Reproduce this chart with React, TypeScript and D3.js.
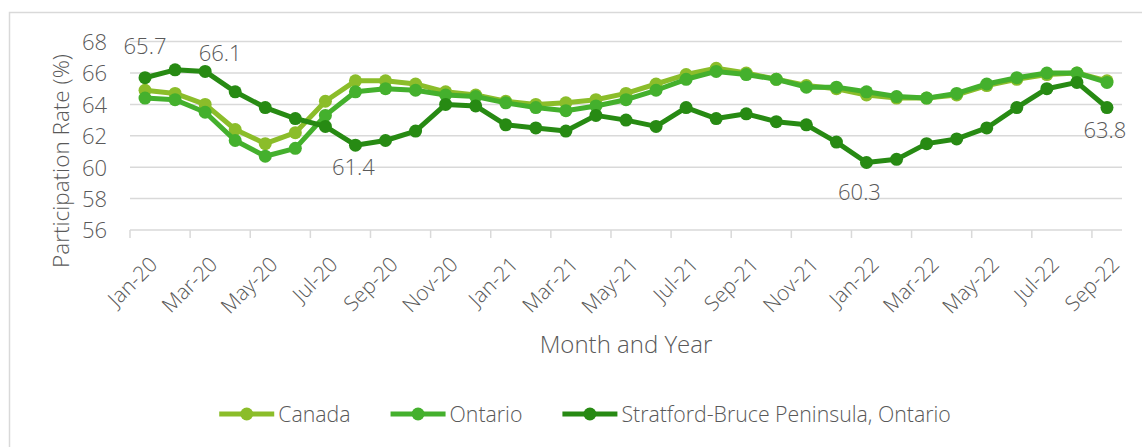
import React, { useRef, useEffect } from "react";
import { select, scaleBand, scaleLinear, line, axisLeft, format } from "d3";

const months = [
  "Jan-20", "Feb-20", "Mar-20", "Apr-20", "May-20", "Jun-20", "Jul-20", "Aug-20", "Sep-20", "Oct-20", "Nov-20", "Dec-20",
  "Jan-21", "Feb-21", "Mar-21", "Apr-21", "May-21", "Jun-21", "Jul-21", "Aug-21", "Sep-21", "Oct-21", "Nov-21", "Dec-21",
  "Jan-22", "Feb-22", "Mar-22", "Apr-22", "May-22", "Jun-22", "Jul-22", "Aug-22", "Sep-22",
];

const canada = [
  64.9, 64.7, 64.0, 62.4, 61.5, 62.2, 64.2, 65.5, 65.5, 65.3, 64.8, 64.6,
  64.2, 64.0, 64.1, 64.3, 64.7, 65.3, 65.9, 66.3, 66.0, 65.6, 65.2, 65.0,
  64.6, 64.4, 64.4, 64.6, 65.2, 65.6, 65.9, 66.0, 65.5,
];

const ontario = [
  64.4, 64.3, 63.5, 61.7, 60.7, 61.2, 63.3, 64.8, 65.0, 64.9, 64.6, 64.5,
  64.1, 63.8, 63.6, 63.9, 64.3, 64.9, 65.6, 66.1, 65.9, 65.6, 65.1, 65.1,
  64.8, 64.5, 64.4, 64.7, 65.3, 65.7, 66.0, 66.0, 65.4,
];

const stratford = [
  65.7, 66.2, 66.1, 64.8, 63.8, 63.1, 62.6, 61.4, 61.7, 62.3, 64.0, 63.9,
  62.7, 62.5, 62.3, 63.3, 63.0, 62.6, 63.8, 63.1, 63.4, 62.9, 62.7, 61.6,
  60.3, 60.5, 61.5, 61.8, 62.5, 63.8, 65.0, 65.4, 63.8,
];

const yTicks = [56, 58, 60, 62, 64, 66, 68];
const seriesNames = ["Canada", "Ontario", "Stratford-Bruce Peninsula, Ontario"];
const seriesColors = ["#8bbd2a", "#44b02d", "#278a13"];

// Stratford points that carry a value label, and where the label sits
const labelIndex = [0, 2, 7, 24, 32];
const labelOffset = [[0, -32], [15, -18], [-2, 22], [-7, 30], [-2, 23]];

const W = 1142;
const H = 447;
const FONT = "'Open Sans', sans-serif";
const WEIGHT = 300;
const TEXT = "#595959";
const GRID = "#d9d9d9";

function ParticipationChart() {
  const svgRef = useRef(null);

  useEffect(() => {
    const svg = select(svgRef.current);
    svg.selectAll("*").remove();

    const left = 130;
    const right = 1122;
    const top = 41.6;
    const bottom = 230;

    const xScale = scaleBand().domain(months).range([left, right]);
    const cx = (m) => xScale(m) + xScale.bandwidth() / 2;
    const yScale = scaleLinear().domain([56, 68]).range([bottom, top]);

    // outer chart frame (runs off the right / bottom like the source)
    svg
      .append("rect")
      .attr("x", 9.5)
      .attr("y", 12.5)
      .attr("width", 1160)
      .attr("height", 460)
      .attr("fill", "none")
      .attr("stroke", GRID)
      .attr("stroke-width", 1.5);

    svg
      .append("g")
      .selectAll("line")
      .data(yTicks)
      .join("line")
      .attr("x1", left)
      .attr("x2", right)
      .attr("y1", (d) => yScale(d))
      .attr("y2", (d) => yScale(d))
      .attr("stroke", GRID)
      .attr("stroke-width", 1.5);

    const yAxis = axisLeft(yScale).tickValues(yTicks).tickSize(0).tickPadding(23);
    const yG = svg.append("g").attr("transform", `translate(${left},0)`).call(yAxis);
    yG.select(".domain").remove();
    yG.selectAll("text")
      .attr("font-family", FONT)
      .attr("font-weight", WEIGHT)
      .attr("font-size", 22)
      .attr("fill", TEXT)
      .attr("dy", "0.36em");

    // x ticks every second month at band edges, labels at band centres
    const tickMonths = months.filter((_, i) => i % 2 === 0);
    svg
      .append("g")
      .selectAll("line")
      .data(tickMonths)
      .join("line")
      .attr("x1", (d) => xScale(d))
      .attr("x2", (d) => xScale(d))
      .attr("y1", bottom)
      .attr("y2", bottom + 8)
      .attr("stroke", GRID)
      .attr("stroke-width", 1.5);

    svg
      .append("g")
      .selectAll("text")
      .data(tickMonths)
      .join("text")
      .attr("transform", (d) => `translate(${cx(d) + 3},${bottom + 25}) rotate(-45)`)
      .attr("text-anchor", "end")
      .attr("dy", "0.72em")
      .attr("font-family", FONT)
      .attr("font-weight", WEIGHT)
      .attr("font-size", 21)
      .attr("fill", TEXT)
      .text((d) => d);

    const allSeries = [canada, ontario, stratford];
    const myLine = line()
      .x((d, i) => cx(months[i]))
      .y((d) => yScale(d));

    allSeries.forEach((values, s) => {
      const g = svg.append("g");
      g.append("path")
        .attr("d", myLine(values))
        .attr("fill", "none")
        .attr("stroke", seriesColors[s])
        .attr("stroke-width", 5)
        .attr("stroke-linejoin", "round");
      g.selectAll("circle")
        .data(values)
        .join("circle")
        .attr("cx", (d, i) => cx(months[i]))
        .attr("cy", (d) => yScale(d))
        .attr("r", 6.5)
        .attr("fill", seriesColors[s]);
    });

    svg
      .append("g")
      .selectAll("text")
      .data(labelIndex)
      .join("text")
      .attr("x", (d, k) => cx(months[d]) + labelOffset[k][0])
      .attr("y", (d, k) => yScale(stratford[d]) + labelOffset[k][1])
      .attr("dy", "0.36em")
      .attr("text-anchor", "middle")
      .attr("font-family", FONT)
      .attr("font-weight", WEIGHT)
      .attr("font-size", 22)
      .attr("fill", TEXT)
      .text((d) => format(".1f")(stratford[d]));

    // axis titles
    svg
      .append("text")
      .attr("x", (left + right) / 2)
      .attr("y", 344)
      .attr("dy", "0.36em")
      .attr("text-anchor", "middle")
      .attr("font-family", FONT)
      .attr("font-weight", WEIGHT)
      .attr("font-size", 24)
      .attr("fill", TEXT)
      .text("Month and Year");

    svg
      .append("text")
      .attr("transform", "translate(61,161) rotate(-90)")
      .attr("dy", "0.36em")
      .attr("text-anchor", "middle")
      .attr("font-family", FONT)
      .attr("font-weight", WEIGHT)
      .attr("font-size", 22.5)
      .attr("fill", TEXT)
      .text("Participation Rate (%)");

    // legend, centred under the chart
    const legend = svg.append("g");
    const items = legend
      .selectAll("g")
      .data(seriesNames)
      .join("g");
    items
      .append("line")
      .attr("x1", 0)
      .attr("x2", 55)
      .attr("y1", 0)
      .attr("y2", 0)
      .attr("stroke", (d, i) => seriesColors[i])
      .attr("stroke-width", 5);
    items
      .append("circle")
      .attr("cx", 27.5)
      .attr("cy", 0)
      .attr("r", 6.5)
      .attr("fill", (d, i) => seriesColors[i]);
    items
      .append("text")
      .attr("x", 59)
      .attr("dy", "0.36em")
      .attr("font-family", FONT)
      .attr("font-weight", WEIGHT)
      .attr("font-size", 21.3)
      .attr("fill", TEXT)
      .text((d) => d);

    let offset = 0;
    const widths = [];
    items.each(function () {
      widths.push(59 + select(this).select("text").node().getComputedTextLength());
    });
    const total = widths.reduce((a, b) => a + b, 0) + 40 * (widths.length - 1);
    const start = 585 - total / 2;
    items.attr("transform", (d, i) => {
      const x = start + offset;
      offset += widths[i] + 40;
      return `translate(${x},414)`;
    });
  }, []);

  return (
    <svg
      ref={svgRef}
      width={W}
      height={H}
      style={{ position: "absolute", left: 0, top: 0, display: "block", background: "#fff" }}
    />
  );
}

export default function App() {
  return <ParticipationChart />;
}
